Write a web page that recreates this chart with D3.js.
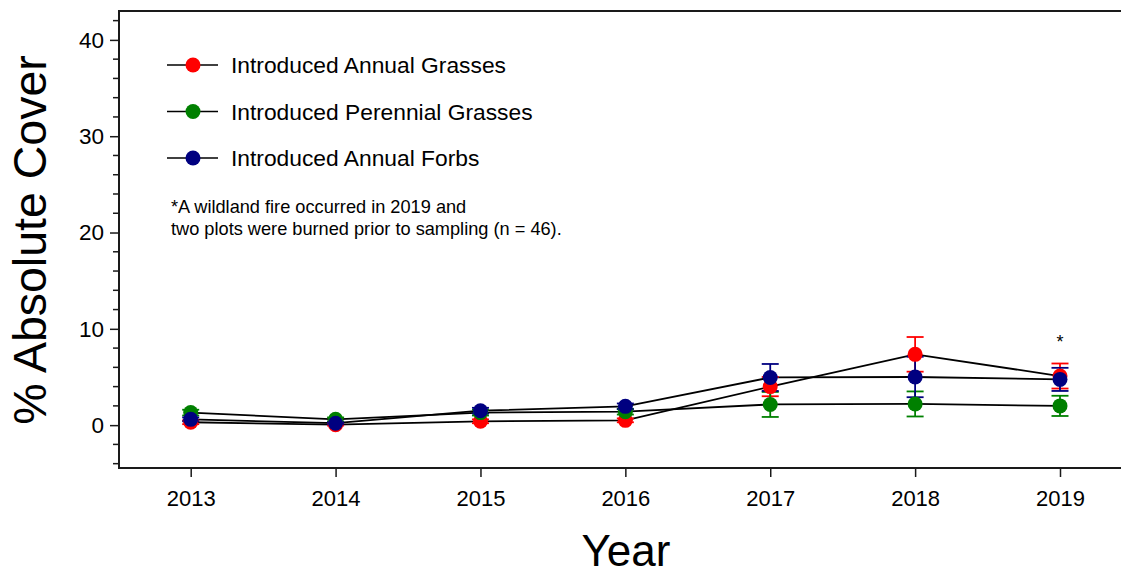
<!DOCTYPE html>
<html>
<head>
<meta charset="utf-8">
<script src="https://cdn.jsdelivr.net/npm/d3@7"></script>
<style>
  html, body { margin: 0; padding: 0; background: #fff; }
  svg { display: block; font-family: Arial, "Liberation Sans", sans-serif; }
</style>
</head>
<body>
<svg id="chart" width="1121" height="575"></svg>
<script>
// Survey years
const years = [2013, 2014, 2015, 2016, 2017, 2018, 2019];

// Mean % absolute cover per year
const annualGrasses    = [0.3, 0.05, 0.4, 0.5, 4.0, 7.35, 5.1];
const perennialGrasses = [1.3, 0.6, 1.3, 1.4, 2.15, 2.2, 2.0];
const annualForbs      = [0.6, 0.2, 1.5, 1.95, 4.95, 5.0, 4.75];

// Standard errors
const annualGrassesSE    = [0.2, 0.1, 0.2, 0.2, 1.0, 1.8, 1.3];
const perennialGrassesSE = [0.3, 0.2, 0.3, 0.3, 1.3, 1.3, 1.05];
const annualForbsSE      = [0.2, 0.1, 0.3, 0.3, 1.4, 2.1, 1.2];

const seriesNames  = ["Introduced Annual Grasses", "Introduced Perennial Grasses", "Introduced Annual Forbs"];
const seriesColors = ["#ff0000", "#008000", "#000080"];

const yTicks = [0, 10, 20, 30, 40];
const noteLines = ["*A wildland fire occurred in 2019 and", "two plots were burned prior to sampling (n = 46)."];

const series = [
  { name: seriesNames[0], color: seriesColors[0], values: annualGrasses, se: annualGrassesSE },
  { name: seriesNames[1], color: seriesColors[1], values: perennialGrasses, se: perennialGrassesSE },
  { name: seriesNames[2], color: seriesColors[2], values: annualForbs, se: annualForbsSE }
];

const svg = d3.select("#chart");
const plotLeft = 119, plotTop = 11, plotRight = 1125, plotBottom = 468;

const x = d3.scaleLinear().domain([2013, 2019]).range([190.7, 1060]);
const y = d3.scaleLinear().domain([-4.45, 43.0]).range([plotBottom, plotTop]);

// Frame: left, top and bottom edges
svg.append("path")
  .attr("d", `M${plotRight},${plotTop}H${plotLeft}V${plotBottom}H${plotRight}`)
  .attr("fill", "none").attr("stroke", "#1a1a1a").attr("stroke-width", 2);

// Y axis: major ticks with labels, minor ticks every 2 units
const yAxis = d3.axisLeft(y).tickValues(yTicks).tickSize(9).tickPadding(6).tickFormat(d3.format("d"));
const gy = svg.append("g").attr("transform", `translate(${plotLeft},0)`).call(yAxis);
gy.select(".domain").remove();
gy.selectAll("text").attr("font-size", 22.5).attr("fill", "#000").attr("font-family", "Arial, 'Liberation Sans', sans-serif");
gy.selectAll("line").attr("stroke", "#1a1a1a").attr("stroke-width", 1.5);

const minorTicks = d3.range(-4, 43, 2).filter(v => v % 10 !== 0);
svg.append("g").selectAll("line").data(minorTicks).join("line")
  .attr("x1", plotLeft - 6).attr("x2", plotLeft)
  .attr("y1", d => y(d)).attr("y2", d => y(d))
  .attr("stroke", "#1a1a1a").attr("stroke-width", 1.5);

// X axis
const xAxis = d3.axisBottom(x).tickValues(years).tickSize(9).tickPadding(13).tickFormat(d3.format("d"));
const gx = svg.append("g").attr("transform", `translate(0,${plotBottom})`).call(xAxis);
gx.select(".domain").remove();
gx.selectAll("text").attr("font-size", 22).attr("fill", "#000").attr("font-family", "Arial, 'Liberation Sans', sans-serif");
gx.selectAll("line").attr("stroke", "#1a1a1a").attr("stroke-width", 1.5);

// Axis titles
svg.append("text")
  .attr("x", 626).attr("y", 566)
  .attr("text-anchor", "middle").attr("font-size", 44)
  .text("Year");
svg.append("text")
  .attr("transform", `translate(46,${(55 + 425) / 2}) rotate(-90)`)
  .attr("text-anchor", "middle").attr("font-size", 46.5)
  .text("% Absolute Cover");

// Connecting lines
const line = d3.line().x((d, i) => x(years[i])).y(d => y(d));
svg.append("g").selectAll("path").data(series).join("path")
  .attr("d", s => line(s.values))
  .attr("fill", "none").attr("stroke", "#000").attr("stroke-width", 1.8);

// Error bars
const capHalf = 8.5;
series.forEach(s => {
  const g = svg.append("g").attr("stroke", s.color).attr("stroke-width", 1.8);
  s.values.forEach((v, i) => {
    const cx = x(years[i]);
    const hi = y(v + s.se[i]), lo = y(v - s.se[i]);
    g.append("line").attr("x1", cx).attr("x2", cx).attr("y1", hi).attr("y2", lo);
    g.append("line").attr("x1", cx - capHalf).attr("x2", cx + capHalf).attr("y1", hi).attr("y2", hi);
    g.append("line").attr("x1", cx - capHalf).attr("x2", cx + capHalf).attr("y1", lo).attr("y2", lo);
  });
});

// Markers
series.forEach(s => {
  svg.append("g").selectAll("circle").data(s.values).join("circle")
    .attr("cx", (d, i) => x(years[i])).attr("cy", d => y(d))
    .attr("r", 7.5).attr("fill", s.color);
});

// Asterisk above the 2019 points
svg.append("text")
  .attr("x", x(2019)).attr("y", y(8.0))
  .attr("text-anchor", "middle").attr("font-size", 18)
  .text("*");

// Legend
const legend = svg.append("g");
series.forEach((s, i) => {
  const ly = 65 + i * 46.5;
  legend.append("line").attr("x1", 167).attr("x2", 218).attr("y1", ly).attr("y2", ly)
    .attr("stroke", "#000").attr("stroke-width", 1.5);
  legend.append("circle").attr("cx", 193).attr("cy", ly).attr("r", 7.5).attr("fill", s.color);
  legend.append("text").attr("x", 231).attr("y", ly + 8).attr("font-size", 22.8).text(s.name);
});

// Note
svg.append("g").selectAll("text").data(noteLines).join("text")
  .attr("x", 171).attr("y", (d, i) => 213 + i * 22)
  .attr("font-size", 18.2).text(d => d);
</script>
</body>
</html>
